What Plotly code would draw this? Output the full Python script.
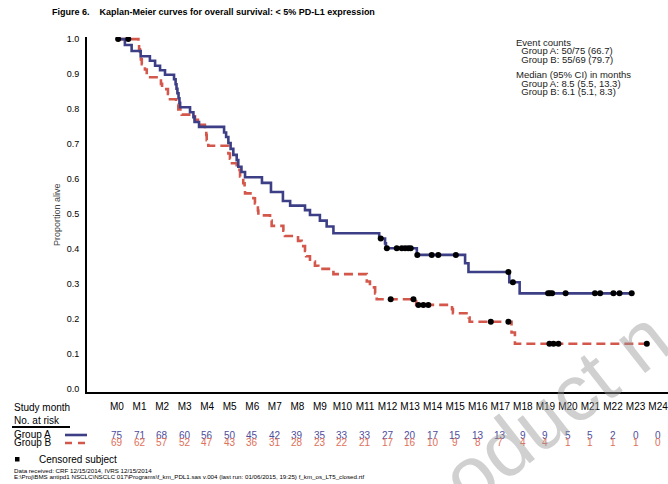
import plotly.graph_objects as go

# ---------------- data ----------------
months = list(range(25))
month_labels = ["M%d" % m for m in months]

a_event_t = [0.35, 0.65, 1.05, 1.46, 1.69, 1.91, 2.13, 2.53, 2.60, 2.64, 2.68, 2.73, 2.77, 2.80, 3.24,
             3.39, 3.44, 3.64, 4.75, 4.84, 4.94, 5.04, 5.16, 5.31, 5.38, 5.52, 5.68, 6.43, 6.83, 7.36,
             7.68, 8.34, 8.56, 9.00, 9.30, 9.60, 11.63, 11.89, 11.93, 13.30, 15.44, 15.59, 17.40, 17.86]
a_surv = [0.983, 0.966, 0.951, 0.938, 0.924, 0.911, 0.898, 0.885, 0.871, 0.858, 0.845, 0.831, 0.818, 0.805, 0.791,
          0.777, 0.763, 0.749, 0.733, 0.720, 0.703, 0.686, 0.669, 0.654, 0.635, 0.620, 0.605, 0.589, 0.563, 0.537,
          0.524, 0.511, 0.497, 0.481, 0.464, 0.445, 0.430, 0.416, 0.402, 0.383, 0.359, 0.334, 0.305, 0.273]
a_censor_t = [0.05, 11.70, 11.97, 12.41, 12.63, 12.78, 12.92, 13.03, 13.32, 13.96, 14.25, 15.03, 17.36, 17.56,
              19.12, 19.20, 19.30, 19.90, 21.20, 21.43, 22.02, 22.29, 22.83]
a_end = 22.83

b_event_t = [0.95, 0.98, 1.02, 1.06, 1.10, 1.24, 1.32, 1.95, 2.00, 2.26, 2.35, 2.62, 2.72, 2.87, 3.46,
             3.68, 3.90, 3.96, 3.98, 4.05, 4.94, 5.01, 5.10, 5.31, 5.46, 5.60, 5.66, 5.68, 6.05, 6.12,
             6.25, 6.27, 6.79, 6.86, 7.38, 7.45, 8.03, 8.19, 8.34, 8.39, 8.56, 8.78, 8.93, 9.60, 11.08,
             11.22, 11.45, 11.52, 13.27, 14.86, 14.90, 15.60, 15.64, 17.50, 17.65]
b_surv = [0.986, 0.971, 0.957, 0.942, 0.928, 0.913, 0.891, 0.872, 0.857, 0.843, 0.828, 0.813, 0.799, 0.784, 0.769,
          0.755, 0.740, 0.726, 0.711, 0.695, 0.673, 0.658, 0.645, 0.626, 0.607, 0.588, 0.573, 0.559, 0.545, 0.530,
          0.510, 0.496, 0.481, 0.466, 0.452, 0.437, 0.423, 0.408, 0.394, 0.379, 0.364, 0.352, 0.343, 0.328, 0.307,
          0.290, 0.273, 0.256, 0.240, 0.228, 0.216, 0.204, 0.192, 0.161, 0.129]
b_censor_t = [0.50, 12.14, 13.15, 13.37, 13.59, 13.81, 16.58, 17.36, 19.18, 19.36, 19.58, 23.50]
b_end = 23.50

risk_a = [75, 71, 68, 60, 56, 50, 45, 42, 39, 35, 33, 33, 27, 20, 17, 15, 13, 13, 9, 9, 5, 5, 2, 0, 0]
risk_b = [69, 62, 57, 52, 47, 43, 36, 31, 28, 23, 22, 21, 17, 16, 10, 9, 8, 7, 4, 4, 1, 1, 1, 1, 0]

info_lines = ["Event counts", "  Group A: 50/75 (66.7)", "  Group B: 55/69 (79.7)",
              "Median (95% CI) in months", "  Group A: 8.5 (5.5, 13.3)", "  Group B: 6.1 (5.1, 8.3)"]

# ---------------- helpers ----------------
W, H = 668, 484
L, R, T, B = 87, 0, 37, 92
PW, PH = W - L - R, H - T - B


def px(x):
    return (x - L) / PW


def py(y):
    return (H - B - y) / PH


def step_xy(ts, ss, end):
    xs = [0.0] + list(ts) + [end]
    ys = [1.0] + list(ss) + [ss[-1]]
    return xs, ys


def surv_at(ts, ss, t):
    s = 1.0
    for ti, si in zip(ts, ss):
        if ti <= t:
            s = si
    return s


BLUE = "#3c3f86"
RED = "#d4574c"
BLUE_TXT = "#4d4d9c"
RED_TXT = "#e0705a"
FONT = "Liberation Sans, Arial, sans-serif"

fig = go.Figure()
ax, ay = step_xy(a_event_t, a_surv, a_end)
bx, by = step_xy(b_event_t, b_surv, b_end)
fig.add_trace(go.Scatter(x=bx, y=by, mode="lines", line=dict(shape="hv", color=RED, width=2.6, dash="9px,5px"),
                         hoverinfo="skip", showlegend=False))
fig.add_trace(go.Scatter(x=ax, y=ay, mode="lines", line=dict(shape="hv", color=BLUE, width=2.6),
                         hoverinfo="skip", showlegend=False))
fig.add_trace(go.Scatter(x=a_censor_t, y=[surv_at(a_event_t, a_surv, t) for t in a_censor_t], mode="markers",
                         marker=dict(color="black", size=6), hoverinfo="skip", showlegend=False))
fig.add_trace(go.Scatter(x=b_censor_t, y=[surv_at(b_event_t, b_surv, t) for t in b_censor_t], mode="markers",
                         marker=dict(color="black", size=6), hoverinfo="skip", showlegend=False))

ann = []
# title
ann.append(dict(x=px(50), y=py(12), xref="paper", yref="paper", xanchor="left", yanchor="middle", showarrow=False,
                text="<b>Figure 6.&nbsp;&nbsp;&nbsp; Kaplan-Meier curves for overall survival: &lt; 5% PD-L1 expression</b>",
                font=dict(family="Liberation Sans Narrow, Arial Narrow, Liberation Sans", size=9, color="black")))
# y title
ann.append(dict(x=px(57), y=py(215), xref="paper", yref="paper", xanchor="center", yanchor="middle", showarrow=False,
                text="Proportion alive", textangle=-90, font=dict(family=FONT, size=9, color="#444")))
# info box
info_y = [43, 51, 59, 75, 83, 91]
for line, yy in zip(info_lines, info_y):
    ann.append(dict(x=px(514), y=py(yy), xref="paper", yref="paper", xanchor="left", yanchor="middle",
                    showarrow=False, text=line.replace(" ", "&nbsp;", 2) if line.startswith("  ") else line,
                    font=dict(family=FONT, size=9.5, color="#222")))
# table labels
for txt, yy in [("Study month", 407), ("No. at risk", 421), ("Group A", 434), ("Group B", 442)]:
    ann.append(dict(x=px(12), y=py(yy), xref="paper", yref="paper", xanchor="left", yanchor="middle",
                    showarrow=False, text=txt, font=dict(family=FONT, size=10, color="black")))
for m, ra, rb in zip(months, risk_a, risk_b):
    ann.append(dict(x=m, y=py(435), xref="x", yref="paper", xanchor="center", yanchor="middle", showarrow=False,
                    text=str(ra), font=dict(family=FONT, size=10, color=BLUE_TXT)))
    ann.append(dict(x=m, y=py(442.5), xref="x", yref="paper", xanchor="center", yanchor="middle", showarrow=False,
                    text=str(rb), font=dict(family=FONT, size=10, color=RED_TXT)))
ann.append(dict(x=px(37), y=py(459), xref="paper", yref="paper", xanchor="left", yanchor="middle", showarrow=False,
                text="Censored subject", font=dict(family=FONT, size=10, color="black")))
ann.append(dict(x=px(12), y=py(470), xref="paper", yref="paper", xanchor="left", yanchor="middle", showarrow=False,
                text="Data received: CRF 12/15/2014, IVRS 12/15/2014", font=dict(family=FONT, size=6.2, color="black")))
ann.append(dict(x=px(12), y=py(477), xref="paper", yref="paper", xanchor="left", yanchor="middle", showarrow=False,
                text="E:\\Proj\\BMS antipd1 NSCLC\\NSCLC 017\\Programs\\f_km_PDL1.sas v.004 (last run: 01/06/2015, 19:25) f_km_os_LT5_closed.rtf",
                font=dict(family=FONT, size=6.2, color="black")))
# watermark
ann.append(dict(x=px(555), y=py(408), xref="paper", yref="paper", xanchor="center", yanchor="middle",
                showarrow=False, text="oduct n", textangle=-38,
                font=dict(family=FONT, size=80, color="rgba(150,150,150,0.45)")))

shapes = [
    dict(type="line", xref="paper", yref="paper", x0=px(12), x1=px(70), y0=py(427), y1=py(427),
         line=dict(color="black", width=2)),
    dict(type="line", xref="paper", yref="paper", x0=px(65), x1=px(87), y0=py(435), y1=py(435),
         line=dict(color=BLUE, width=2.6)),
    dict(type="line", xref="paper", yref="paper", x0=px(65), x1=px(87), y0=py(443), y1=py(443),
         line=dict(color=RED, width=2.6, dash="7px,6px")),
    dict(type="rect", xref="paper", yref="paper", x0=px(15), x1=px(19.5), y0=py(457), y1=py(461.5),
         fillcolor="black", line=dict(width=0)),
]

fig.update_layout(
    width=W, height=H, margin=dict(l=L, r=R, t=T, b=B),
    paper_bgcolor="white", plot_bgcolor="white",
    annotations=ann, shapes=shapes,
    xaxis=dict(range=[-1.33, 24.44], tickvals=months, ticktext=month_labels, showgrid=False, zeroline=False,
               showline=True, linecolor="black", linewidth=2, ticks="", ticklabelstandoff=4,
               ticklabeloverflow="allow",
               tickfont=dict(family=FONT, size=10, color="black")),
    yaxis=dict(range=[-0.009, 1.006], tickvals=[i / 10 for i in range(11)], tickformat=".1f", showgrid=False,
               zeroline=False, showline=True, linecolor="black", linewidth=2, ticks="", ticklabelstandoff=4,
               tickfont=dict(family=FONT, size=9, color="black")),
)

fig.write_html("out.html")
